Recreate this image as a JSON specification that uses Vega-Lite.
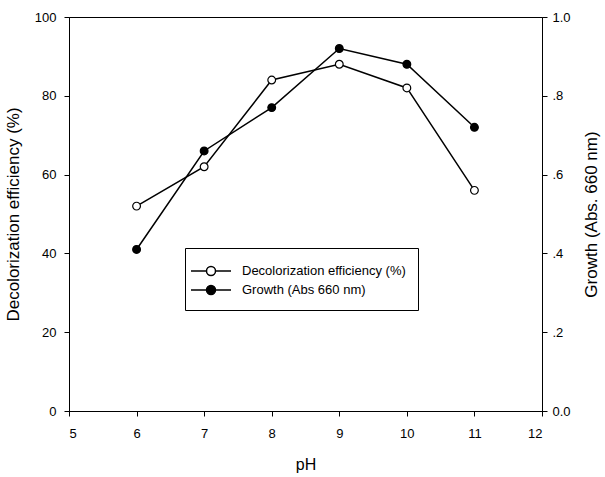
{
  "$schema": "https://vega.github.io/schema/vega-lite/v6.json",
  "width": 473,
  "height": 394,
  "autosize": "none",
  "padding": {"left": 69, "top": 17, "right": 63, "bottom": 66},
  "background": "white",
  "config": {
    "font": "Liberation Sans",
    "view": {"stroke": "black", "strokeWidth": 1},
    "axis": {
      "grid": false,
      "domainColor": "black",
      "tickColor": "black",
      "labelColor": "black",
      "titleColor": "black",
      "labelFontSize": 13,
      "titleFontSize": 17,
      "titleFontWeight": "normal",
      "tickSize": 5
    }
  },
  "data": {
    "values": [
      {"pH": 6, "series": "Decolorization efficiency (%)", "value": 52},
      {"pH": 7, "series": "Decolorization efficiency (%)", "value": 62},
      {"pH": 8, "series": "Decolorization efficiency (%)", "value": 84},
      {"pH": 9, "series": "Decolorization efficiency (%)", "value": 88},
      {"pH": 10, "series": "Decolorization efficiency (%)", "value": 82},
      {"pH": 11, "series": "Decolorization efficiency (%)", "value": 56},
      {"pH": 6, "series": "Growth (Abs  660 nm)", "value": 0.41},
      {"pH": 7, "series": "Growth (Abs  660 nm)", "value": 0.66},
      {"pH": 8, "series": "Growth (Abs  660 nm)", "value": 0.77},
      {"pH": 9, "series": "Growth (Abs  660 nm)", "value": 0.92},
      {"pH": 10, "series": "Growth (Abs  660 nm)", "value": 0.88},
      {"pH": 11, "series": "Growth (Abs  660 nm)", "value": 0.72}
    ]
  },
  "encoding": {
    "x": {
      "field": "pH",
      "type": "quantitative",
      "scale": {"domain": [5, 12], "nice": false, "zero": false},
      "axis": {"values": [5, 6, 7, 8, 9, 10, 11, 12], "title": "pH", "titleFontSize": 16, "titlePadding": 16, "labelPadding": 11}
    }
  },
  "layer": [
    {
      "transform": [{"filter": "datum.series == 'Decolorization efficiency (%)'"}],
      "encoding": {
        "y": {
          "field": "value",
          "type": "quantitative",
          "scale": {"domain": [0, 100], "nice": false},
          "axis": {"values": [0, 20, 40, 60, 80, 100], "title": "Decolorization efficiency (%)", "orient": "left", "labelPadding": 8, "titlePadding": 12}
        }
      },
      "layer": [
        {"mark": {"type": "line", "color": "black", "strokeWidth": 1.5}},
        {
          "mark": {"type": "point", "filled": false, "stroke": "black", "strokeWidth": 1.2, "size": 60, "opacity": 1},
          "encoding": {
            "fill": {
              "field": "series",
              "type": "nominal",
              "scale": {"domain": ["Decolorization efficiency (%)", "Growth (Abs  660 nm)"], "range": ["white", "black"]},
              "legend": {
                "title": null,
                "orient": "none",
                "legendX": 116,
                "legendY": 231,
                "strokeColor": "black",
                "fillColor": "white",
                "padding": 12,
                "symbolType": "M-2,0L-0.45,0M0.45,0L2,0M-0.45,0A0.45,0.45 0 1,0 0.45,0A0.45,0.45 0 1,0 -0.45,0",
                "symbolSize": 400,
                "symbolStrokeColor": "black",
                "symbolStrokeWidth": 1.5,
                "labelFontSize": 13,
                "labelColor": "black",
                "labelLimit": 300,
                "labelOffset": 20,
                "rowPadding": 0,
                "symbolOffset": 3
              }
            }
          }
        }
      ]
    },
    {
      "transform": [{"filter": "datum.series == 'Growth (Abs  660 nm)'"}],
      "encoding": {
        "y": {
          "field": "value",
          "type": "quantitative",
          "scale": {"domain": [0, 1], "nice": false},
          "axis": {
            "values": [0, 0.2, 0.4, 0.6, 0.8, 1],
            "orient": "right",
            "title": "Growth (Abs. 660 nm)",
            "titleAngle": 270,
            "titleBaseline": "bottom",
            "titlePadding": 30,
            "labelPadding": 5,
            "labelExpr": "datum.value == 0 ? '0.0' : datum.value == 1 ? '1.0' : slice(format(datum.value, '.1f'), 1)"
          }
        }
      },
      "layer": [
        {"mark": {"type": "line", "color": "black", "strokeWidth": 1.5}},
        {
          "mark": {"type": "point", "filled": true, "stroke": "black", "strokeWidth": 1.2, "size": 60, "opacity": 1},
          "encoding": {
            "fill": {"field": "series", "type": "nominal"}
          }
        }
      ]
    }
  ],
  "resolve": {"scale": {"y": "independent"}}
}
